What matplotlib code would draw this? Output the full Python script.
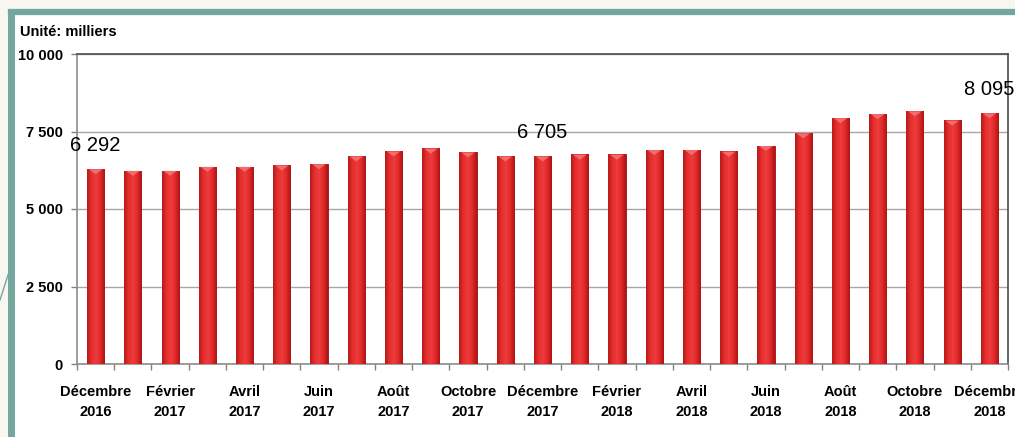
import numpy as np
import matplotlib.pyplot as plt
from matplotlib.colors import LinearSegmentedColormap
from matplotlib.ticker import FixedLocator, FuncFormatter
from matplotlib.lines import Line2D
from matplotlib.patches import Rectangle

# =========================================================
# DATA (milliers)
# =========================================================
order = ['Janvier', 'Février', 'Mars', 'Avril', 'Mai', 'Juin', 'Juillet',
         'Août', 'Septembre', 'Octobre', 'Novembre', 'Décembre']
months = ['Décembre'] + order + order
years = [2016] + [2017] * 12 + [2018] * 12
values = [6292, 6240, 6240, 6370, 6370, 6412, 6455, 6705, 6868, 6955, 6835, 6705,
          6705, 6760, 6760, 6910, 6910, 6855, 7040, 7450, 7940, 8070, 8160, 7860, 8095]
labelled = [0, 12, 24]

narrow = ['Liberation Sans Narrow', 'Liberation Sans', 'DejaVu Sans']
regular = ['Liberation Sans', 'DejaVu Sans']

# =========================================================
# FIGURE + FRAME DECORATION
# =========================================================
fig = plt.figure(figsize=(10.15, 4.37), dpi=100)
fig.patch.set_facecolor('#f8f6f1')
W, H = 1015, 437
teal = '#72a79d'
# white card with teal border on top/left
fig.patches.append(Rectangle((11 / W, 0), 1, 1 - 12 / H, transform=fig.transFigure,
                             facecolor='white', edgecolor='none', zorder=-10))
fig.add_artist(Line2D([11 / W, 1], [1 - 12 / H, 1 - 12 / H], color=teal, lw=4.5,
                      transform=fig.transFigure))
fig.add_artist(Line2D([11 / W, 11 / W], [0, 1 - 12 / H], color=teal, lw=5,
                      transform=fig.transFigure))
fig.add_artist(Line2D([0, 9 / W], [1 - 300 / H, 1 - 272 / H], color=teal, lw=1,
                      transform=fig.transFigure))

ax = fig.add_axes([77 / W, 1 - 364 / H, (1008 - 77) / W, (364 - 54) / H])
ax.set_facecolor('none')

x = np.arange(len(values))
bars = ax.bar(x, values, width=0.46, color='#dc2626', edgecolor='#9a1010', linewidth=0.6, zorder=3)

# horizontal shading on each bar
cmap = LinearSegmentedColormap.from_list('bar', ['#b81a1a', '#e62e2e', '#ef3b3b', '#e02a2a', '#ad1414'])
grad = np.linspace(0, 1, 64).reshape(1, -1)
for b in bars:
    x0, w, h = b.get_x(), b.get_width(), b.get_height()
    im = ax.imshow(grad, extent=(x0, x0 + w, 0, h), aspect='auto', cmap=cmap, zorder=3.5)
    im.set_clip_path(b)
    # small lighter cap at the top
    ax.fill([x0 + w * 0.1, x0 + w * 0.9, x0 + w * 0.5], [h - 10, h - 10, h - 170],
            color='#f58080', alpha=0.75, lw=0, zorder=4)

ax.set_xlim(-0.5, len(values) - 0.5)
ax.set_ylim(0, 10000)

# data labels
for i in labelled:
    ax.annotate(f'{values[i]:,}'.replace(',', ' '), (x[i], values[i]), xytext=(0, 17),
                textcoords='offset points', ha='center', va='center',
                fontsize=14.5, family=regular, color='black', zorder=5)

# =========================================================
# AXES STYLE
# =========================================================
ax.set_yticks([0, 2500, 5000, 7500, 10000])
ax.yaxis.set_major_formatter(FuncFormatter(lambda v, p: f'{int(v):,}'.replace(',', ' ')))
ax.grid(axis='y', color='#a6a6a6', lw=1, zorder=0)
ax.tick_params(axis='y', length=4, width=1, color='#808080', pad=6)
for lab in ax.get_yticklabels():
    lab.set_fontfamily(regular)
    lab.set_fontweight('bold')
    lab.set_fontsize(10.5)

ax.xaxis.set_major_locator(FixedLocator(x[::2]))
ax.set_xticklabels([f'{m}\n{y}' for m, y in zip(months[::2], years[::2])],
                   fontsize=10.5, fontweight='bold', family=narrow, linespacing=1.55)
ax.xaxis.set_minor_locator(FixedLocator(np.arange(-0.5, len(values), 1)))
ax.tick_params(axis='x', which='major', length=0, pad=15)
ax.tick_params(axis='x', which='minor', length=4, width=1, color='#808080')

ax.spines['left'].set_color('#8c8c8c')
ax.spines['bottom'].set_color('#8c8c8c')
ax.spines['top'].set_color('#4d4d4d')
ax.spines['right'].set_color('#4d4d4d')
for s in ax.spines.values():
    s.set_linewidth(1.2)

fig.text(20 / W, 1 - 32 / H, 'Unité: milliers', fontsize=10.5, fontweight='bold',
         family=narrow, va='center', ha='left')

fig.savefig('out.png', dpi=100, facecolor=fig.get_facecolor())
